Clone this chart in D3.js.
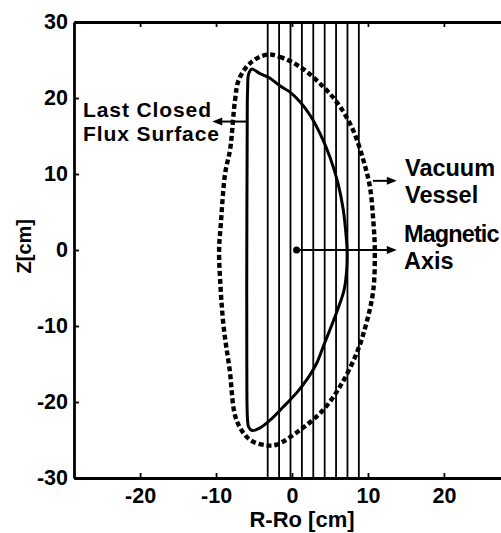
<!DOCTYPE html>
<html>
<head>
<meta charset="utf-8">
<script src="https://cdn.jsdelivr.net/npm/d3@7"></script>
<style>
  body { margin: 0; background: #fff; }
  svg { display: block; }
  text { font-family: "Liberation Sans", Arial, sans-serif; font-weight: bold; fill: #000; }
</style>
</head>
<body>
<svg></svg>
<script>
// data (cm)
let xTicks = [-20, -10, 0, 10, 20]
let yTicks = [30, 20, 10, 0, -10, -20, -30]
let chordR = [-3.2, -1.7, -0.2, 1.3, 2.8, 4.3, 5.8, 7.3, 8.8]
// last closed flux surface, clockwise from the top-left corner
let lcfsR = [-5.3, -4.2, -2.9, -1.6, -0.3, 1.05, 2.4, 3.7, 5.0, 6.05, 6.75, 7.15, 7.25, 7.2, 6.85, 6.1, 5.15, 4.15, 3.25, 2.0, 0.6, -1.2, -2.9, -4.2, -5.25, -5.7, -5.85, -5.95, -5.95, -5.9, -5.85, -5.7]
let lcfsZ = [23.8, 23.2, 22.6, 21.6, 20.8, 19.5, 17.7, 15.3, 12.2, 8.8, 5.3, 1.6, 0, -2.6, -5.3, -7.6, -10.1, -12.6, -14.9, -17.0, -18.8, -20.7, -22.4, -23.4, -23.75, -23.3, -22.4, -15, 0, 15, 21, 23.2]
// vacuum vessel
let vesselR = [-3.3, -1.6, 1.05, 4.1, 6.3, 8.07, 9.4, 10.26, 10.7, 10.9, 10.7, 9.8, 8.5, 6.3, 4.1, 1.05, -2.0, -3.3, -5.5, -7.3, -8.2, -9.0, -9.4, -9.6, -9.4, -8.8, -8.15, -7.5, -7.0, -5.5]
let vesselZ = [25.7, 25.4, 24.1, 21.5, 18.9, 15.7, 11.8, 8.3, 3.9, 0, -5.3, -9.6, -13.6, -18.0, -21.05, -23.7, -25.6, -25.7, -25.0, -22.4, -15.8, -10.1, -5, 0, 3, 10.1, 13.2, 19.7, 22.4, 24.6]
let magAxis = [0.6, 0]

let width = 501
let height = 533
let padL = 74, padR = 510, padT = 22, padB = 478

let svg = d3.select('svg').attr('width', width).attr('height', height)

let xScale = d3.scaleLinear().domain([-28.7, 28.7]).range([padL, padR])
let yScale = d3.scaleLinear().domain([-30, 30]).range([padB, padT])

// chords
svg.selectAll('.chord')
   .data(chordR)
   .enter()
   .append('line')
   .attr('class', 'chord')
   .attr('x1', d => xScale(d)).attr('x2', d => xScale(d))
   .attr('y1', yScale(30)).attr('y2', yScale(-30))
   .attr('stroke', '#000')
   .attr('stroke-width', 1.8)

let line = d3.line()
  .x(d => xScale(d[0]))
  .y(d => yScale(d[1]))
  .curve(d3.curveCatmullRomClosed.alpha(0.5))

let lcfs = lcfsR.map((r, i) => [r, lcfsZ[i]])
let vessel = vesselR.map((r, i) => [r, vesselZ[i]])

svg.append('path')
   .attr('d', line(lcfs))
   .attr('fill', 'none')
   .attr('stroke', '#000')
   .attr('stroke-width', 3)

svg.append('path')
   .attr('d', line(vessel))
   .attr('fill', 'none')
   .attr('stroke', '#000')
   .attr('stroke-width', 4.4)
   .attr('stroke-dasharray', '5,3')

// axes
let fmt = d => String(d)
let yAxis = d3.axisLeft(yScale).tickValues(yTicks).tickFormat(fmt).tickSizeInner(-5).tickSizeOuter(0).tickPadding(6)
let xAxis = d3.axisBottom(xScale).tickValues(xTicks).tickFormat(fmt).tickSizeInner(-5).tickSizeOuter(0).tickPadding(10)
let xTop = d3.axisTop(xScale).tickValues(xTicks).tickSizeInner(-5).tickSizeOuter(0).tickFormat('')
let yRight = d3.axisRight(yScale).tickValues(yTicks).tickSizeInner(-5).tickSizeOuter(0).tickFormat('')

let gy = svg.append('g').attr('transform', 'translate(' + padL + ',0)').call(yAxis)
let gx = svg.append('g').attr('transform', 'translate(0,' + padB + ')').call(xAxis)
let gt = svg.append('g').attr('transform', 'translate(0,' + padT + ')').call(xTop)
let gr = svg.append('g').attr('transform', 'translate(' + padR + ',0)').call(yRight)

;[gy, gx, gt, gr].forEach(g => {
  g.select('.domain').attr('stroke', '#000').attr('stroke-width', 2.8)
  g.selectAll('.tick line').attr('stroke', '#000').attr('stroke-width', 1.8)
  g.selectAll('.tick text').style('font-size', '21.5px').style('font-family', '"Liberation Sans", Arial, sans-serif').style('font-weight', 'bold').attr('fill', '#000')
})

svg.append('text')
   .attr('x', (padL + padR) / 2 + 10)
   .attr('y', 527)
   .attr('text-anchor', 'middle')
   .style('font-size', '22px')
   .text('R-Ro [cm]')

svg.append('text')
   .attr('transform', 'translate(31,' + yScale(0.5) + ') rotate(-90)')
   .attr('text-anchor', 'middle')
   .style('font-size', '20px')
   .text('Z[cm]')

// magnetic axis marker
svg.append('circle')
   .attr('cx', xScale(magAxis[0])).attr('cy', yScale(magAxis[1]))
   .attr('r', 3.5).attr('fill', '#000')

// arrows
let arrow = (r1, r2, z) => {
  let x1 = xScale(r1), x2 = xScale(r2), y = yScale(z)
  let dir = x2 > x1 ? 1 : -1
  svg.append('line')
     .attr('x1', x1).attr('x2', x2 - dir * 6).attr('y1', y).attr('y2', y)
     .attr('stroke', '#000').attr('stroke-width', 2)
  svg.append('path')
     .attr('d', 'M' + x2 + ',' + y + 'L' + (x2 - dir * 10) + ',' + (y - 4) + 'L' + (x2 - dir * 10) + ',' + (y + 4) + 'Z')
     .attr('fill', '#000')
}
arrow(-5.85, -10.5, 16.9)
arrow(10.65, 13.8, 9.1)
arrow(magAxis[0], 13.8, magAxis[1])

let label = (x, y, lines, size, ls) => {
  lines.forEach((t, i) => {
    svg.append('text')
       .attr('x', x).attr('y', y + i * (size * 1.15))
       .style('font-size', size + 'px')
       .style('letter-spacing', ls[i] + 'px')
       .text(t)
  })
}
label(83, 117, ['Last Closed', 'Flux Surface'], 21, [0.9, 0.9])
label(405, 176, ['Vacuum', 'Vessel'], 23.5, [0, 0])
label(404, 241.5, ['Magnetic', 'Axis'], 23.5, [-0.9, 0])
</script>
</body>
</html>
